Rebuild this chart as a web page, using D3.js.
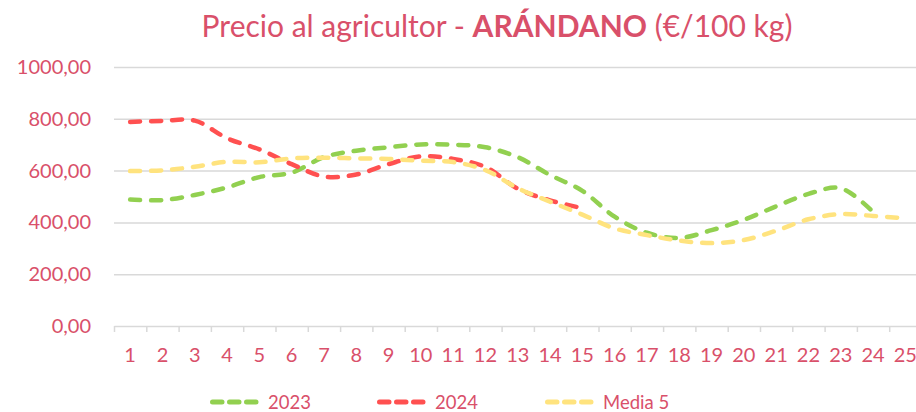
<!DOCTYPE html>
<html>
<head>
<meta charset="utf-8">
<script src="https://cdn.jsdelivr.net/npm/d3@7/dist/d3.min.js"></script>
<style>
  html, body { margin: 0; padding: 0; background: #ffffff; }
  svg { display: block; font-family: Lato, "Open Sans", sans-serif; }
</style>
</head>
<body>
<svg id="chart" width="916" height="412"></svg>
<script>
// Weekly farm-gate price, blueberry (€/100 kg)
const weeks = d3.range(1, 26);
const yTicks = [0, 200, 400, 600, 800, 1000];

const values2023 = [488, 486, 506, 535, 575, 592, 652, 677, 690, 701, 700, 690, 652, 583, 522,
                    422, 360, 340, 370, 410, 462, 510, 532, 440];
const values2024 = [788, 792, 793, 725, 682, 625, 577, 585, 625, 655, 645, 614, 530, 485, 455];
const valuesMedia5 = [598, 601, 615, 634, 632, 647, 650, 647, 645, 638, 633, 602, 532, 480, 430,
                      377, 351, 330, 320, 332, 368, 412, 432, 425, 416];

const seriesNames = ["2023", "2024", "Media 5"];
const seriesColors = ["#92D050", "#FF5050", "#FFE37E"];
const seriesValues = [values2023, values2024, valuesMedia5];

const textColor = "#D9506A";
const gridColor = "#D9D9D9";

const svg = d3.select("#chart");
const left = 114, bandW = 32.3;
const x = d3.scaleBand().domain(weeks).range([left, left + weeks.length * bandW]).padding(0);
const y = d3.scaleLinear().domain([0, 1000]).range([326, 67]);

// Horizontal gridlines
svg.append("g")
  .attr("transform", `translate(${left},0)`)
  .call(d3.axisLeft(y).tickValues(yTicks.slice(1)).tickSize(-(916 - left)).tickFormat(""))
  .call(g => g.select(".domain").remove())
  .call(g => g.selectAll("line").attr("stroke", gridColor).attr("stroke-width", 1.5));

// Y labels
svg.append("g")
  .attr("transform", `translate(${left},0)`)
  .call(d3.axisLeft(y).tickValues(yTicks).tickSize(0).tickPadding(23)
        .tickFormat(d => d.toFixed(2).replace(".", ",")))
  .call(g => g.select(".domain").remove())
  .call(g => g.selectAll("text").attr("fill", textColor).style("font-size", "20px")
        .style("font-family", "Lato, sans-serif"));

// X axis: baseline with boundary ticks
const xEdge = d3.scaleLinear().domain([0, weeks.length]).range(x.range());
svg.append("g")
  .attr("transform", `translate(0,${y(0)})`)
  .call(d3.axisBottom(xEdge).tickValues(d3.range(0, weeks.length + 1))
        .tickSize(6).tickSizeOuter(0).tickFormat(""))
  .call(g => g.select(".domain").attr("stroke", gridColor).attr("stroke-width", 1.5))
  .call(g => g.selectAll(".tick line").attr("stroke", gridColor).attr("stroke-width", 1.5));

// X labels (week numbers)
svg.append("g")
  .attr("transform", `translate(0,${y(0)})`)
  .call(d3.axisBottom(x).tickSize(0).tickPadding(22))
  .call(g => g.select(".domain").remove())
  .call(g => g.selectAll("text").attr("fill", textColor).style("font-size", "20px")
        .style("font-family", "Lato, sans-serif"));

// Series lines
const line = d3.line()
  .x((d, i) => x(weeks[i]) + x.bandwidth() / 2)
  .y(d => y(d))
  .curve(d3.curveCatmullRom.alpha(0.5));

seriesValues.forEach((vals, k) => {
  svg.append("path")
    .datum(vals)
    .attr("fill", "none")
    .attr("stroke", seriesColors[k])
    .attr("stroke-width", 4.5)
    .attr("stroke-linecap", "round")
    .attr("stroke-dasharray", "10 11")
    .attr("d", line);
});

// Title
const title = svg.append("text")
  .attr("x", 497)
  .attr("y", 37)
  .attr("text-anchor", "middle")
  .attr("fill", textColor)
  .style("font-size", "30px")
  .style("font-family", "Lato, sans-serif");
title.append("tspan").text("Precio al agricultor - ");
title.append("tspan").attr("font-weight", "bold").text("ARÁNDANO");
title.append("tspan").text(" (€/100 kg)");

// Legend
const legendX = [210, 377, 545];
seriesNames.forEach((name, k) => {
  const g = svg.append("g").attr("transform", `translate(${legendX[k]},402)`);
  g.append("line")
    .attr("x1", 2.5).attr("x2", 46)
    .attr("y1", 0).attr("y2", 0)
    .attr("stroke", seriesColors[k])
    .attr("stroke-width", 5)
    .attr("stroke-linecap", "round")
    .attr("stroke-dasharray", "9.5 7.5");
  g.append("text")
    .attr("x", 58)
    .attr("y", 6.5)
    .attr("fill", textColor)
    .style("font-size", "18.5px")
    .style("font-family", "Lato, sans-serif")
    .text(name);
});
</script>
</body>
</html>
